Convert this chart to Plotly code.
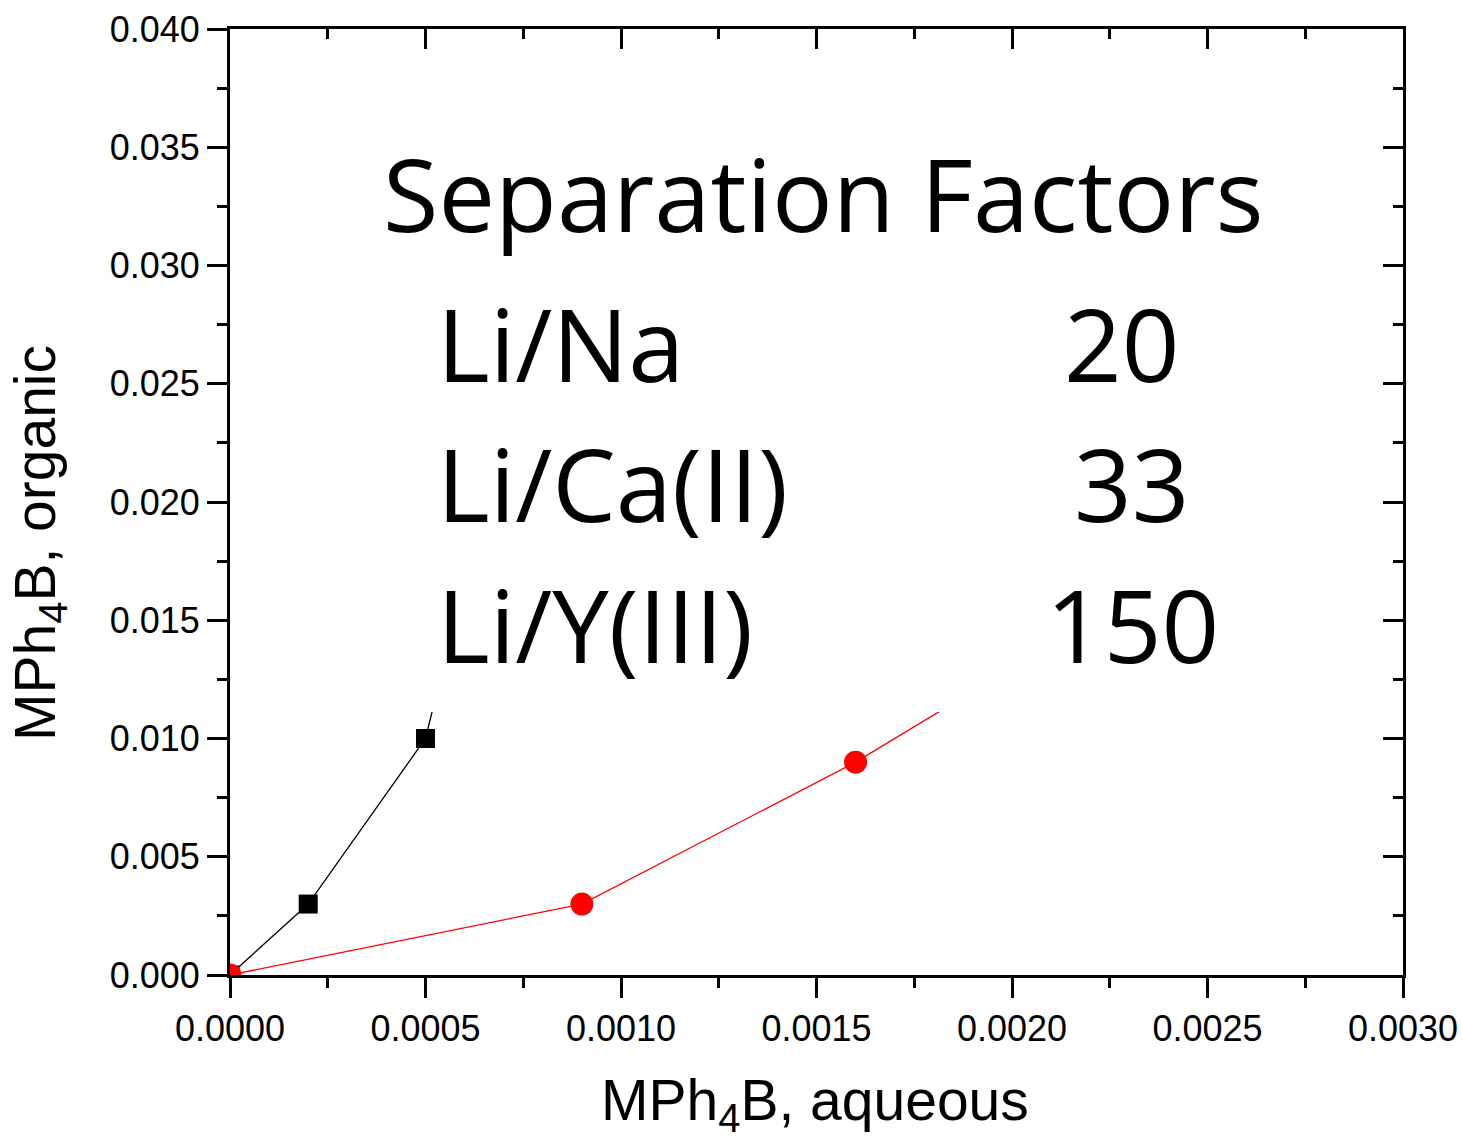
import plotly.graph_objects as go

# ---- data ----
li_x = [0.0, 0.0002, 0.0005, 0.00065]
li_y = [0.0, 0.003, 0.010, 0.020]
other_x = [0.0, 0.0009, 0.0016, 0.0025]
other_y = [0.0, 0.003, 0.009, 0.018]

x_ticks = [0.0, 0.0005, 0.0010, 0.0015, 0.0020, 0.0025, 0.0030]
y_ticks = [0.000, 0.005, 0.010, 0.015, 0.020, 0.025, 0.030, 0.035, 0.040]

factor_pairs = ["Li/Na", "Li/Ca(II)", "Li/Y(III)"]
factor_values = ["20", "33", "150"]

W, H = 1463, 1141
L, R, T, B = 230, 1403, 29, 975


def px(xp):
    return (xp - L) / (R - L)


def py(yp):
    return (B - yp) / (B - T)


fig = go.Figure()
fig.add_trace(go.Scatter(x=li_x, y=li_y, mode="lines+markers",
                         line=dict(color="black", width=1.3),
                         marker=dict(symbol="square", size=19, color="black", line=dict(width=0)),
                         showlegend=False))
fig.add_trace(go.Scatter(x=other_x, y=other_y, mode="lines+markers",
                         line=dict(color="red", width=1.3),
                         marker=dict(symbol="circle", size=23, color="red", line=dict(width=0)),
                         showlegend=False))
# invisible trace to materialise the mirror axes
fig.add_trace(go.Scatter(x=[x_ticks[0]], y=[y_ticks[0]], xaxis="x2", yaxis="y2",
                         mode="markers", marker=dict(opacity=0), hoverinfo="skip",
                         showlegend=False))

tickfont = dict(family="Arial, Liberation Sans, sans-serif", size=36, color="black")
common = dict(showgrid=False, zeroline=False, showline=True, linecolor="black",
              linewidth=3, tickcolor="black", tickwidth=3, ticklen=20, automargin=False)

fig.update_layout(
    width=W, height=H,
    margin=dict(l=L, r=W - R, t=T, b=H - B, autoexpand=False),
    paper_bgcolor="white", plot_bgcolor="white",
    xaxis=dict(range=[0, 0.003], tickvals=x_ticks, tickformat=".4f", ticks="outside",
               tickfont=tickfont,
               minor=dict(dtick=0.00025, tick0=0, ticks="outside", ticklen=10,
                          tickwidth=3, tickcolor="black"),
               **common),
    yaxis=dict(range=[0, 0.04], tickvals=y_ticks, tickformat=".3f", ticks="outside",
               tickfont=tickfont,
               minor=dict(dtick=0.0025, tick0=0, ticks="outside", ticklen=10,
                          tickwidth=3, tickcolor="black"),
               **common),
    xaxis2=dict(range=[0, 0.003], overlaying="x", side="top", tickvals=x_ticks,
                ticks="inside", showticklabels=False,
                minor=dict(dtick=0.00025, tick0=0, ticks="inside", ticklen=10,
                           tickwidth=3, tickcolor="black"),
                **common),
    yaxis2=dict(range=[0, 0.04], overlaying="y", side="right", tickvals=y_ticks,
                ticks="inside", showticklabels=False,
                minor=dict(dtick=0.0025, tick0=0, ticks="inside", ticklen=10,
                           tickwidth=3, tickcolor="black"),
                **common),
)

# white box behind the text (hides the continuation of the lines)
fig.add_shape(type="rect", xref="paper", yref="paper",
              x0=px(372), x1=px(1290), y0=py(712), y1=py(150),
              fillcolor="white", line=dict(width=0), layer="above")

big = dict(family="Open Sans, Lato, sans-serif", size=101, color="black")
anns = []
anns.append(dict(text="Separation Factors", x=px(381), y=py(193), xanchor="left",
                 yanchor="middle", font=big))
row_y = [343, 483, 624]
val_cx = [1122, 1132, 1132]
for name, val, yy, cx in zip(factor_pairs, factor_values, row_y, val_cx):
    anns.append(dict(text=name, x=px(435), y=py(yy), xanchor="left", yanchor="middle", font=big))
    anns.append(dict(text=val, x=px(cx), y=py(yy), xanchor="center", yanchor="middle", font=big))

titlefont = dict(family="Arial, Liberation Sans, sans-serif", size=57, color="black")
anns.append(dict(text="MPh<sub>4</sub>B, aqueous", x=px(815), y=py(1104), xanchor="center",
                 yanchor="middle", font=titlefont))
anns.append(dict(text="MPh<sub>4</sub>B, organic", x=px(39), y=py(543), xanchor="center",
                 yanchor="middle", textangle=-90, font=titlefont))

for a in anns:
    a.update(xref="paper", yref="paper", showarrow=False)
fig.update_layout(annotations=anns)

fig.write_html("out.html")
